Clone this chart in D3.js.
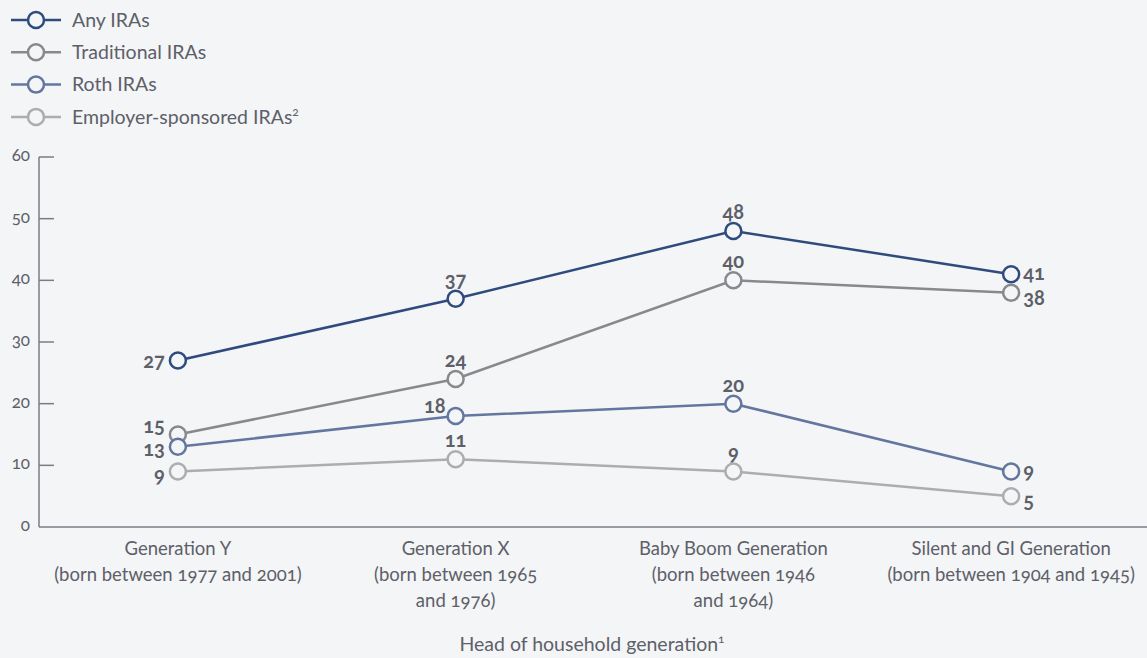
<!DOCTYPE html>
<html>
<head>
<meta charset="utf-8">
<script src="https://cdn.jsdelivr.net/npm/d3@7.9.0/dist/d3.min.js"></script>
<style>
  html, body { margin: 0; padding: 0; background: #f4f5f7; }
  svg { display: block; font-family: Lato, "Open Sans", sans-serif; font-variant-numeric: oldstyle-nums; }
</style>
</head>
<body>
<svg id="chart" width="1147" height="658"></svg>
<script>
const generations = ['Generation Y', 'Generation X', 'Baby Boom Generation', 'Silent and GI Generation'];
const generationLines = [
  ['Generation Y', '(born between 1977 and 2001)'],
  ['Generation X', '(born between 1965', 'and 1976)'],
  ['Baby Boom Generation', '(born between 1946', 'and 1964)'],
  ['Silent and GI Generation', '(born between 1904 and 1945)']
];
const seriesNames = ['Any IRAs', 'Traditional IRAs', 'Roth IRAs', 'Employer-sponsored IRAs'];
const anyIRAs = [27, 37, 48, 41];
const traditionalIRAs = [15, 24, 40, 38];
const rothIRAs = [13, 18, 20, 9];
const employerIRAs = [9, 11, 9, 5];
const yTicks = [0, 10, 20, 30, 40, 50, 60];

const colors = ['#2f4b7e', '#87898d', '#63769f', '#abadb0'];
const series = [anyIRAs, traditionalIRAs, rothIRAs, employerIRAs];

// where each value label sits relative to its point
const placement = [
  ['left', 'above', 'above', 'right'],
  ['leftUp', 'above', 'above', 'rightBelow'],
  ['leftDown', 'aboveLeft', 'above', 'right'],
  ['leftLow', 'above', 'above', 'rightBelow']
];

const svg = d3.select('#chart');
const textColor = '#5d6068';

const x = d3.scalePoint().domain(generations).range([39, 1150]).padding(0.5);
const y = d3.scaleLinear().domain([0, 60]).range([527, 157]);

// axes
svg.append('line').attr('x1', 39).attr('x2', 1147).attr('y1', y(0)).attr('y2', y(0))
  .attr('stroke', '#7a7d85').attr('stroke-width', 1.5);
svg.append('line').attr('x1', 39).attr('x2', 39).attr('y1', y(0)).attr('y2', y(60))
  .attr('stroke', '#7a7d85').attr('stroke-width', 1.5);

const yAxis = svg.append('g');
yTicks.forEach(t => {
  if (t > 0) {
    yAxis.append('line').attr('x1', 39).attr('x2', 54).attr('y1', y(t)).attr('y2', y(t))
      .attr('stroke', '#7a7d85').attr('stroke-width', 1.5);
  }
  yAxis.append('text').attr('x', 30).attr('y', y(t) + 4)
    .attr('text-anchor', 'end').attr('font-size', 17).attr('fill', textColor).text(t);
});

// category labels
generationLines.forEach((lines, i) => {
  const t = svg.append('text').attr('x', x(generations[i])).attr('y', 555)
    .attr('text-anchor', 'middle').attr('font-size', 18.5).attr('fill', textColor);
  lines.forEach((l, j) => {
    t.append('tspan').attr('x', x(generations[i])).attr('dy', j === 0 ? 0 : 26).text(l);
  });
});

const title = svg.append('text').attr('x', 592).attr('y', 651).attr('text-anchor', 'middle')
  .attr('font-size', 19.5).attr('fill', textColor).text('Head of household generation');
title.append('tspan').attr('font-size', 12).attr('dy', -8).text('1');

// lines and points
const line = d3.line().x((d, i) => x(generations[i])).y(d => y(d));

series.forEach((vals, s) => {
  svg.append('path').datum(vals).attr('d', line).attr('fill', 'none')
    .attr('stroke', colors[s]).attr('stroke-width', 2.5);
});

series.forEach((vals, s) => {
  vals.forEach((v, i) => {
    svg.append('circle').attr('cx', x(generations[i])).attr('cy', y(v)).attr('r', 8)
      .attr('fill', '#f4f5f7').attr('stroke', colors[s]).attr('stroke-width', 2.5);
  });
});

// value labels
series.forEach((vals, s) => {
  vals.forEach((v, i) => {
    const px = x(generations[i]), py = y(v);
    const p = placement[s][i];
    const t = svg.append('text').attr('font-size', 20).attr('font-weight', 700)
      .attr('fill', textColor).text(v);
    if (p === 'left') {
      t.attr('x', px - 13).attr('y', py + 7).attr('text-anchor', 'end');
    } else if (p === 'leftUp') {
      t.attr('x', px - 13).attr('y', py - 2).attr('text-anchor', 'end');
    } else if (p === 'leftDown') {
      t.attr('x', px - 13).attr('y', py + 9).attr('text-anchor', 'end');
    } else if (p === 'leftLow') {
      t.attr('x', px - 13).attr('y', py + 10).attr('text-anchor', 'end');
    } else if (p === 'above') {
      t.attr('x', px).attr('y', py - 12).attr('text-anchor', 'middle');
    } else if (p === 'aboveLeft') {
      t.attr('x', px - 10).attr('y', py - 3).attr('text-anchor', 'end');
    } else if (p === 'right') {
      t.attr('x', px + 12).attr('y', py + 6).attr('text-anchor', 'start');
    } else if (p === 'rightBelow') {
      t.attr('x', px + 12).attr('y', py + 12).attr('text-anchor', 'start');
    }
  });
});

// legend
const legend = svg.append('g');
seriesNames.forEach((name, s) => {
  const ly = 20 + s * 32.3;
  legend.append('line').attr('x1', 11).attr('x2', 61).attr('y1', ly).attr('y2', ly)
    .attr('stroke', colors[s]).attr('stroke-width', 2.5);
  legend.append('circle').attr('cx', 36).attr('cy', ly).attr('r', 8)
    .attr('fill', '#f4f5f7').attr('stroke', colors[s]).attr('stroke-width', 2.5);
  const t = legend.append('text').attr('x', 72).attr('y', ly).attr('dy', '0.35em')
    .attr('font-size', 19.5).attr('fill', textColor).text(name);
  if (s === 3) t.append('tspan').attr('font-size', 12).attr('dy', -8).text('2');
});
</script>
</body>
</html>
